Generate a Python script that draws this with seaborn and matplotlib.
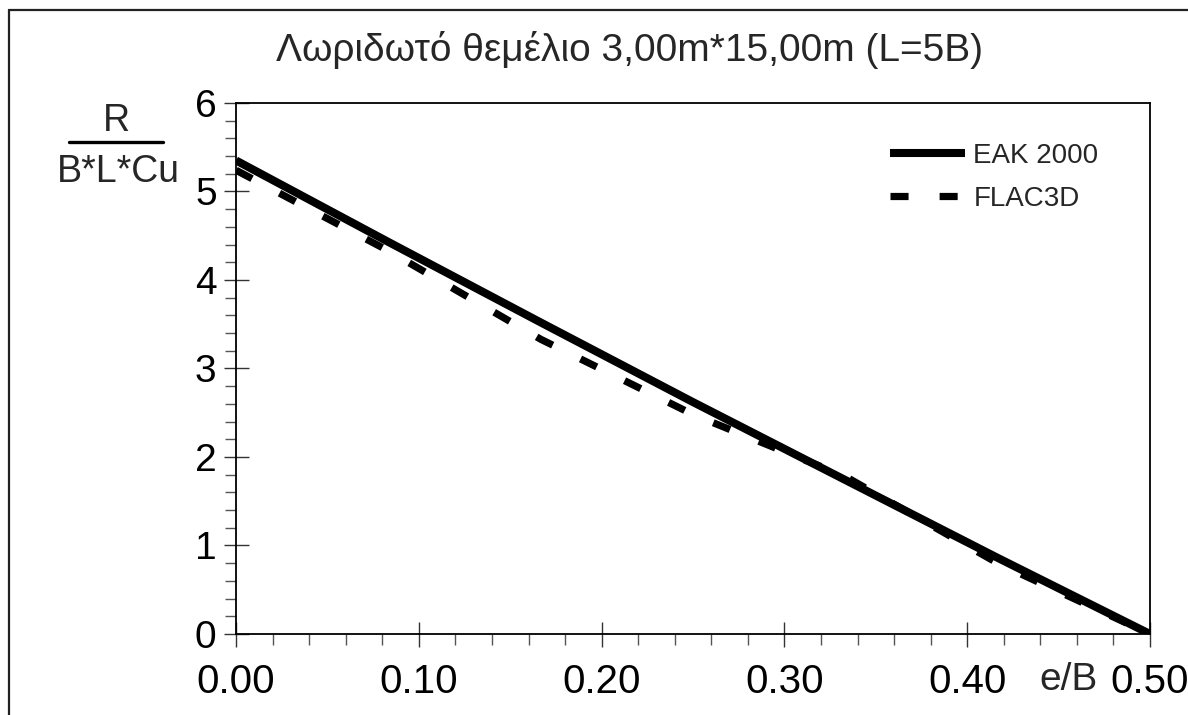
import matplotlib
matplotlib.use("Agg")
import matplotlib.pyplot as plt
import seaborn as sns
import pandas as pd
from matplotlib.lines import Line2D
from matplotlib.ticker import MultipleLocator, FormatStrFormatter

# ---- data ----
e_over_B = [0.0, 0.0833, 0.1667, 0.25, 0.3333, 0.4167, 0.5]
eak_2000 = [5.35, 4.43, 3.52, 2.62, 1.74, 0.86, 0.00]
flac3d   = [5.24, 4.33, 3.33, 2.48, 1.78, 0.80, 0.00]
series_names = ["EAK 2000", "FLAC3D"]
title_text = "Λωριδωτό θεμέλιο 3,00m*15,00m (L=5B)"

sns.set_theme(style="white")
plt.rcParams['font.family'] = ['Liberation Sans', 'DejaVu Sans']

fig = plt.figure(figsize=(11.88, 7.15), dpi=100)
ax = fig.add_axes([0.1987, 0.1133, 0.9680 - 0.1987, 0.856 - 0.1133])

df = pd.DataFrame({"x": e_over_B * 2,
                   "y": eak_2000 + flac3d,
                   "s": [series_names[0]] * len(e_over_B) + [series_names[1]] * len(e_over_B)})

sns.lineplot(data=df[df.s == series_names[0]], x="x", y="y", ax=ax, color="black",
             linewidth=5.8, label=series_names[0], solid_capstyle="butt", zorder=3)
sns.lineplot(data=df[df.s == series_names[1]], x="x", y="y", ax=ax, color="black",
             linewidth=5.2, label=series_names[1], zorder=4)
ax.lines[1].set_dashes([2.5, 4.3])
ax.lines[1].set_dash_capstyle("butt")

ax.set_xlim(0, 0.5)
ax.set_ylim(0, 6)
ax.xaxis.set_major_locator(MultipleLocator(0.1))
ax.xaxis.set_minor_locator(MultipleLocator(0.02))
ax.yaxis.set_major_locator(MultipleLocator(1))
ax.yaxis.set_minor_locator(MultipleLocator(0.2))
ax.xaxis.set_major_formatter(FormatStrFormatter("%.2f"))
ax.yaxis.set_major_formatter(FormatStrFormatter("%d"))

ax.tick_params(axis="both", which="major", direction="inout", length=18, width=1.0,
               color="#333333", bottom=True, left=True)
ax.tick_params(axis="both", which="minor", direction="out", length=8, width=1.0,
               color="#555555", bottom=True, left=True)
ax.tick_params(axis="x", which="major", labelsize=29, pad=12, labelcolor="black")
ax.tick_params(axis="y", which="major", labelsize=28, pad=5, labelcolor="black")

for sp in ax.spines.values():
    sp.set_visible(True)
    sp.set_color("black")
    sp.set_linewidth(1.3)

ax.set_xlabel("")
ax.set_ylabel("")
ax.grid(False)

leg = ax.legend(loc="upper left", frameon=False, fontsize=20, handlelength=2.7,
                handletextpad=0.3, labelspacing=0.6, borderpad=0, borderaxespad=0,
                bbox_to_anchor=(890 / 1188, 1 - 143 / 715),
                bbox_transform=fig.transFigure)

fig.text(0.530, 0.930, title_text, ha="center", va="center", fontsize=28)

# y-axis label as a fraction
fig.text(0.0976, 0.831, "R", ha="center", va="center", fontsize=27)
fig.add_artist(Line2D([0.058, 0.137], [0.801, 0.801], color="black", lw=2.4))
fig.text(0.0995, 0.760, "B*L*Cu", ha="center", va="center", fontsize=27)

# x-axis label
fig.text(0.899, 0.049, "e/B", ha="center", va="center", fontsize=28)

# outer frame (left and top)
fig.add_artist(Line2D([0.0072, 0.0072], [0.0, 0.986], color="#222222", lw=1.6))
fig.add_artist(Line2D([0.0072, 1.0], [0.986, 0.986], color="#222222", lw=1.6))

fig.savefig("out.png", dpi=100)
